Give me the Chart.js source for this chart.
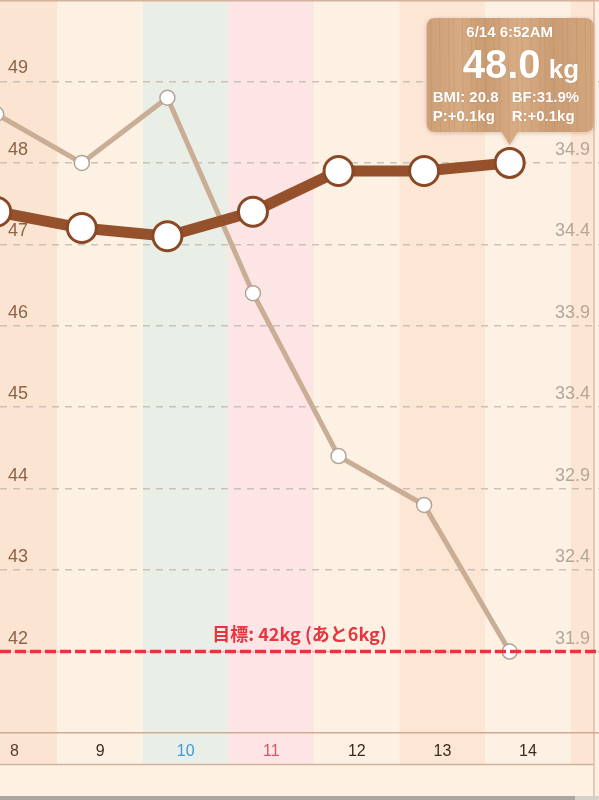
<!DOCTYPE html>
<html>
<head>
<meta charset="utf-8">
<script src="https://cdn.jsdelivr.net/npm/chart.js@4.4.1/dist/chart.umd.min.js"></script>
<style>
  html, body { margin: 0; padding: 0; background: #fdf1e2; }
  canvas { display: block; }
</style>
</head>
<body>
<canvas id="weightChart" width="599" height="800"></canvas>
<script>
// data
var days = [8, 9, 10, 11, 12, 13, 14];
var times = ['6:52', '6:52', '6:52', '6:52', '6:52', '6:52', '6:52'];
var weight = [47.4, 47.2, 47.1, 47.4, 47.9, 47.9, 48.0];
var bodyFat = [35.2, 34.9, 35.3, 34.1, 33.1, 32.8, 31.9];
var weightTicks = [42, 43, 44, 45, 46, 47, 48, 49];
var fatTicks = [31.9, 32.4, 32.9, 33.4, 33.9, 34.4, 34.9, 35.4];
var goalWeight = 42;
var bmi = 20.8;
var month = 6;
var rDelta = 0.1;

var bandColors = ['#fbe5d2', '#fdf1e4', '#e9efe6', '#fde5e5', '#fdf1e4', '#fce6d4', '#fdf1e4', '#fce5d2'];
var latin = '"Liberation Sans", Arial, sans-serif';

function dayFrac(t) {
  var p = t.split(':');
  return (parseInt(p[0], 10) + parseInt(p[1], 10) / 60) / 24;
}

var weightPoints = days.map(function (d, i) { return { x: d + dayFrac(times[i]), y: weight[i] }; });
var fatPoints = days.map(function (d, i) { return { x: d + dayFrac(times[i]), y: bodyFat[i] }; });

// day columns behind the plot
var bandPlugin = {
  id: 'bands',
  beforeDraw: function (chart) {
    var ctx = chart.ctx, xs = chart.scales.x;
    ctx.save();
    ctx.fillStyle = '#fdf1e2';
    ctx.fillRect(0, 0, chart.width, chart.height);
    for (var d = days[0] - 1; d <= days[days.length - 1] + 1; d++) {
      var x0 = xs.getPixelForValue(d), x1 = xs.getPixelForValue(d + 1);
      var c = bandColors[d - days[0]];
      if (!c) continue;
      ctx.fillStyle = c;
      ctx.fillRect(x0, 0, x1 - x0, 764);
    }
    ctx.fillStyle = '#fdf0e3';
    ctx.fillRect(594, 0, 5, 796);
    ctx.strokeStyle = '#d4b19a';
    ctx.lineWidth = 1.5;
    ctx.beginPath();
    ctx.moveTo(0, 764.5); ctx.lineTo(594, 764.5);
    ctx.moveTo(0, 0.75); ctx.lineTo(chart.width, 0.75);
    ctx.stroke();
    ctx.strokeStyle = '#dcbda8';
    ctx.beginPath();
    ctx.moveTo(594, 0); ctx.lineTo(594, 796);
    ctx.stroke();
    ctx.fillStyle = '#aba6a1';
    ctx.fillRect(0, 796, 575, 4);
    ctx.fillStyle = '#d9d2cb';
    ctx.fillRect(575, 796, 24, 4);
    ctx.restore();
  }
};

// goal line
var goalPlugin = {
  id: 'goal',
  afterDatasetsDraw: function (chart) {
    var ctx = chart.ctx, ys = chart.scales.y, area = chart.chartArea;
    var y = ys.getPixelForValue(goalWeight);
    ctx.save();
    ctx.strokeStyle = '#e8343f';
    ctx.lineWidth = 3.5;
    ctx.setLineDash([11, 4]);
    ctx.beginPath();
    ctx.moveTo(area.left, y); ctx.lineTo(area.right, y);
    ctx.stroke();
    var left = weight[weight.length - 1] - goalWeight;
    ctx.fillStyle = '#e8343f';
    ctx.font = 'bold 18px "Noto Sans CJK JP", sans-serif';
    ctx.textAlign = 'center';
    ctx.textBaseline = 'middle';
    ctx.fillText('目標: ' + goalWeight + 'kg (あと' + Math.round(left) + 'kg)', (area.left + area.right) / 2, y - 17);
    ctx.restore();
  }
};

function roundRect(ctx, x, y, w, h, r) {
  ctx.beginPath();
  ctx.moveTo(x + r, y);
  ctx.lineTo(x + w - r, y);
  ctx.quadraticCurveTo(x + w, y, x + w, y + r);
  ctx.lineTo(x + w, y + h - r);
  ctx.quadraticCurveTo(x + w, y + h, x + w - r, y + h);
  ctx.lineTo(x + r, y + h);
  ctx.quadraticCurveTo(x, y + h, x, y + h - r);
  ctx.lineTo(x, y + r);
  ctx.quadraticCurveTo(x, y, x + r, y);
  ctx.closePath();
}

// wooden balloon over the latest point
var balloonPlugin = {
  id: 'balloon',
  afterDraw: function (chart) {
    var ctx = chart.ctx;
    var last = days.length - 1;
    var pt = chart.getDatasetMeta(0).data[last];
    var tipY = pt.y - 18;
    var bx = pt.x - 83, bw = 167, by = 18, bh = tipY - 13 - by;
    ctx.save();
    ctx.shadowColor = 'rgba(90,50,20,0.25)';
    ctx.shadowBlur = 4;
    ctx.shadowOffsetY = 1;
    roundRect(ctx, bx, by, bw, bh, 9);
    ctx.moveTo(pt.x - 8, by + bh);
    ctx.lineTo(pt.x, tipY);
    ctx.lineTo(pt.x + 8, by + bh);
    var g = ctx.createLinearGradient(bx, 0, bx + bw, 0);
    g.addColorStop(0, '#cd9f77');
    g.addColorStop(0.2, '#d6aa82');
    g.addColorStop(0.35, '#cb9c72');
    g.addColorStop(0.55, '#d8ad86');
    g.addColorStop(0.75, '#cc9d74');
    g.addColorStop(1, '#d3a67e');
    ctx.fillStyle = g;
    ctx.fill();
    ctx.shadowColor = 'transparent';
    ctx.clip();
    ctx.strokeStyle = 'rgba(170,115,70,0.18)';
    ctx.lineWidth = 1;
    for (var i = 0; i < 22; i++) {
      var gx = bx + 4 + i * 7.6 + (i % 3) * 1.3;
      ctx.beginPath();
      ctx.moveTo(gx, by);
      ctx.lineTo(gx + 1, tipY);
      ctx.stroke();
    }
    ctx.restore();

    ctx.save();
    ctx.fillStyle = '#ffffff';
    ctx.shadowColor = 'rgba(120,70,30,0.35)';
    ctx.shadowBlur = 1;
    ctx.shadowOffsetY = -0.5;
    ctx.textBaseline = 'alphabetic';
    ctx.textAlign = 'center';
    ctx.font = 'bold 15px ' + latin;
    ctx.fillText(month + '/' + days[last] + ' ' + times[last] + 'AM', pt.x, 37);
    ctx.textAlign = 'left';
    ctx.font = 'bold 40px ' + latin;
    ctx.fillText(weight[last].toFixed(1), pt.x - 47, 78);
    ctx.font = 'bold 26px ' + latin;
    ctx.fillText('kg', pt.x + 39, 78);
    var p = weight[last] - weight[last - 1];
    ctx.font = 'bold 15px ' + latin;
    ctx.fillText('BMI: ' + bmi.toFixed(1), bx + 6, 102);
    ctx.fillText('BF:' + bodyFat[last].toFixed(1) + '%', pt.x + 2, 102);
    ctx.fillText('P:' + (p >= 0 ? '+' : '') + p.toFixed(1) + 'kg', bx + 6, 121);
    ctx.fillText('R:' + (rDelta >= 0 ? '+' : '') + rDelta.toFixed(1) + 'kg', pt.x + 2, 121);
    ctx.restore();
  }
};

var labelColors = { 8: '#5b3a2a', 10: '#3a9bd5', 11: '#d6566a' };

var chart = new Chart(document.getElementById('weightChart'), {
  type: 'line',
  data: {
    datasets: [{
      label: '体重',
      data: weightPoints,
      yAxisID: 'y',
      borderColor: '#95512b',
      borderWidth: 11,
      pointRadius: 14.5,
      pointBorderWidth: 3,
      pointBackgroundColor: '#ffffff',
      pointBorderColor: '#8a4824',
      tension: 0,
      clip: false
    }, {
      label: '体脂肪率',
      data: fatPoints,
      yAxisID: 'yR',
      borderColor: '#c9ad95',
      borderWidth: 5,
      pointRadius: 7.5,
      pointBorderWidth: 1.5,
      pointBackgroundColor: '#ffffff',
      pointBorderColor: '#b3a495',
      tension: 0,
      clip: false
    }]
  },
  options: {
    responsive: false,
    animation: false,
    layout: { padding: 0, autoPadding: false },
    plugins: { legend: { display: false }, tooltip: { enabled: false } },
    scales: {
      x: {
        type: 'linear',
        min: 8.33,
        max: 15.33,
        afterBuildTicks: function (s) { s.ticks = days.map(function (d) { return { value: d + 0.5 }; }); },
        afterFit: function (s) { s.height = 67; s.paddingLeft = 0; s.paddingRight = 0; },
        grid: { display: false },
        border: { display: true, color: '#cfab93', width: 1.5 },
        ticks: {
          autoSkip: false,
          maxRotation: 0,
          padding: 1,
          font: { family: latin, size: 16 },
          color: function (c) { return labelColors[Math.floor(c.tick.value)] || '#3d2b1f'; },
          callback: function (v) { return Math.floor(v); }
        }
      },
      y: {
        position: 'left',
        min: 41,
        max: 50,
        afterBuildTicks: function (s) { s.ticks = weightTicks.map(function (v) { return { value: v }; }); },
        afterFit: function (s) { s.width = 0; s.paddingTop = 0; s.paddingBottom = 0; },
        grid: { color: '#cbc1b7', lineWidth: 1.5, drawTicks: false },
        border: { display: false, dash: [7, 6] },
        ticks: {
          mirror: true,
          padding: 8,
          labelOffset: -13,
          color: '#8d6448',
          font: { family: latin, size: 18 }
        }
      },
      yR: {
        position: 'right',
        min: 31.4,
        max: 35.9,
        afterBuildTicks: function (s) { s.ticks = fatTicks.map(function (v) { return { value: v }; }); },
        afterFit: function (s) { s.width = 0; s.paddingTop = 0; s.paddingBottom = 0; },
        grid: { display: false, drawTicks: false },
        border: { display: false },
        ticks: {
          mirror: true,
          padding: -9,
          labelOffset: -13,
          color: '#b4a699',
          font: { family: latin, size: 18 },
          callback: function (v) { return v.toFixed(1); }
        }
      }
    }
  },
  plugins: [bandPlugin, goalPlugin, balloonPlugin]
});
</script>
</body>
</html>
